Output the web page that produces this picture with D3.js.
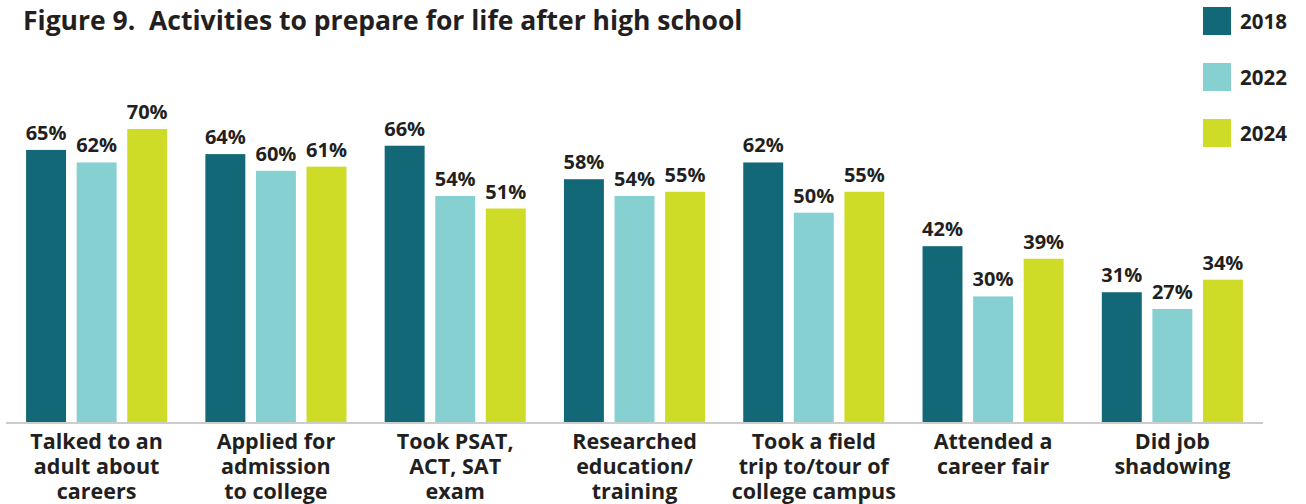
<!DOCTYPE html>
<html>
<head>
<meta charset="utf-8">
<script src="https://cdn.jsdelivr.net/npm/d3@7"></script>
<style>
  body { margin: 0; background: #fff; }
  text { font-family: "Open Sans", sans-serif; font-weight: 700; fill: #231f20; }
</style>
</head>
<body>
<svg id="chart"></svg>
<script>
const width = 1306;
const height = 504;

const categories = [
  ['Talked to an', 'adult about', 'careers'],
  ['Applied for', 'admission', 'to college'],
  ['Took PSAT,', 'ACT, SAT', 'exam'],
  ['Researched', 'education/', 'training'],
  ['Took a field', 'trip to/tour of', 'college campus'],
  ['Attended a', 'career fair'],
  ['Did job', 'shadowing']
];
const years = ['2018', '2022', '2024'];
const values2018 = [65, 64, 66, 58, 62, 42, 31];
const values2022 = [62, 60, 54, 54, 50, 30, 27];
const values2024 = [70, 61, 51, 55, 55, 39, 34];
const colors = ['#136878', '#86d0d2', '#cfdc27'];

const seriesValues = [values2018, values2022, values2024];
const rows = categories.map((c, i) => ({
  idx: i,
  label: c,
  vals: years.map((y, j) => ({year: y, value: seriesValues[j][i]}))
}));

const baseY = 422;

const x0 = d3.scaleBand()
  .domain(d3.range(categories.length))
  .range([6, 1263])
  .paddingInner(0.213)
  .paddingOuter(0.112);

const x1 = d3.scaleBand()
  .domain(years)
  .range([0, x0.bandwidth()])
  .paddingInner(0.21);

const y = d3.scaleLinear()
  .domain([0, 100])
  .range([baseY, baseY - 418.6]);

const color = d3.scaleOrdinal().domain(years).range(colors);

const svg = d3.select('#chart')
  .attr('width', width)
  .attr('height', height);

// title (double space kept on purpose)
svg.append('text')
  .attr('x', 23)
  .attr('y', 30)
  .style('font-size', '26.5px')
  .style('white-space', 'pre')
  .text('Figure 9.  Activities to prepare for life after high school');

// bars
const group = svg.selectAll('.grp')
  .data(rows)
  .enter()
  .append('g')
    .attr('class', 'grp')
    .attr('transform', d => `translate(${x0(d.idx)},0)`);

group.selectAll('rect')
  .data(d => d.vals)
  .enter()
  .append('rect')
    .attr('x', d => x1(d.year))
    .attr('y', d => y(d.value))
    .attr('width', x1.bandwidth())
    .attr('height', d => baseY - y(d.value))
    .attr('fill', d => color(d.year));

group.selectAll('.val')
  .data(d => d.vals)
  .enter()
  .append('text')
    .attr('class', 'val')
    .attr('x', d => x1(d.year) + x1.bandwidth() / 2)
    .attr('y', d => y(d.value) - 10)
    .attr('text-anchor', 'middle')
    .style('font-size', '20px')
    .text(d => d.value + '%');

// axis line
svg.append('line')
  .attr('x1', x0.range()[0])
  .attr('x2', x0.range()[1])
  .attr('y1', baseY + 1)
  .attr('y2', baseY + 1)
  .attr('stroke', '#cccccc')
  .attr('stroke-width', 2);

// category labels
const lab = group.append('text')
  .attr('text-anchor', 'middle')
  .style('font-size', '21.5px');

lab.selectAll('tspan')
  .data(d => d.label)
  .enter()
  .append('tspan')
    .attr('x', x0.bandwidth() / 2)
    .attr('y', (d, i) => 449 + i * 25)
    .text(d => d);

// legend
const leg = svg.selectAll('.leg')
  .data(years)
  .enter()
  .append('g')
    .attr('class', 'leg')
    .attr('transform', (d, i) => `translate(1203,${7 + i * 56})`);

leg.append('rect')
  .attr('width', 28)
  .attr('height', 28)
  .attr('fill', d => color(d));

leg.append('text')
  .attr('x', 37)
  .attr('y', 21.5)
  .style('font-size', '20.5px')
  .text(d => d);
</script>
</body>
</html>
